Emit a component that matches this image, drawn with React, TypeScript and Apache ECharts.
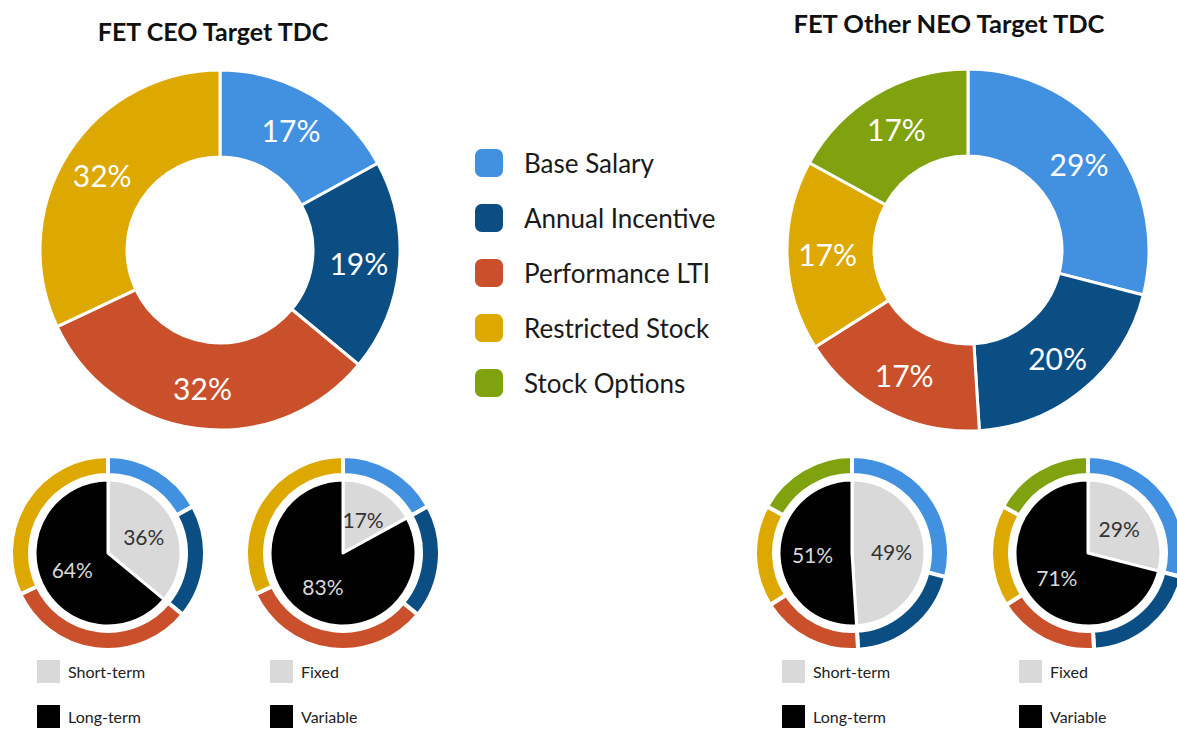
import React, { useEffect, useRef } from "react";
import * as echarts from "echarts";

const components = ["Base Salary", "Annual Incentive", "Performance LTI", "Restricted Stock", "Stock Options"];
const componentColors = ["#4291E1", "#0B4E84", "#C9502B", "#DDA800", "#7FA20E"];

const ceoNames = ["Base Salary", "Annual Incentive", "Performance LTI", "Restricted Stock"];
const ceoValues = [17, 19, 32, 32];
const neoNames = ["Base Salary", "Annual Incentive", "Performance LTI", "Restricted Stock", "Stock Options"];
const neoValues = [29, 20, 17, 17, 17];

const termNames = ["Short-term", "Long-term"];
const payNames = ["Fixed", "Variable"];
const ceoTerm = [36, 64];
const ceoPay = [17, 83];
const neoTerm = [49, 51];
const neoPay = [29, 71];

const splitColors = ["#D9D9D9", "#000000"];
const splitLabelColors = ["#333333", "#D9D9D9"];

const FONT = "Lato";

function colorOf(name: string) {
  return componentColors[components.indexOf(name)];
}

function compData(names: string[], values: number[]) {
  return names.map((n, i) => ({ name: n, value: values[i], itemStyle: { color: colorOf(n) } }));
}

function splitData(names: string[], values: number[]) {
  return names.map((n, i) => ({
    name: n,
    value: values[i],
    itemStyle: { color: splitColors[i] },
    label: { color: splitLabelColors[i] },
  }));
}

function bigDonut(names: string[], values: number[], center: number[], radius: number[]) {
  return {
    type: "pie",
    center,
    radius,
    startAngle: 90,
    clockwise: true,
    avoidLabelOverlap: false,
    silent: true,
    itemStyle: { borderColor: "#fff", borderWidth: 3 },
    label: {
      show: true,
      position: "inside",
      formatter: "{c}%",
      color: "#fff",
      fontSize: 30,
      fontFamily: FONT,
    },
    labelLine: { show: false },
    data: compData(names, values),
  };
}

function smallRing(names: string[], values: number[], center: number[]) {
  return {
    type: "pie",
    center,
    radius: [78, 97],
    startAngle: 90,
    silent: true,
    itemStyle: { borderColor: "#fff", borderWidth: 4 },
    label: { show: false },
    labelLine: { show: false },
    data: compData(names, values),
  };
}

function smallPie(names: string[], values: number[], center: number[]) {
  return {
    type: "pie",
    center,
    radius: [0, 73],
    startAngle: 90,
    silent: true,
    avoidLabelOverlap: false,
    itemStyle: { borderColor: "#fff", borderWidth: 3 },
    label: {
      show: true,
      position: "inside",
      formatter: "{c}%",
      fontSize: 21,
      fontFamily: FONT,
    },
    labelLine: { show: false },
    data: splitData(names, values),
  };
}

// one legend entry per component so each sits on its own row
function smallLegendItem(name: string, left: number, top: number) {
  return {
    orient: "horizontal",
    left,
    top,
    padding: 0,
    itemWidth: 25,
    itemHeight: 25,
    icon: "rect",
    selectedMode: false,
    data: [name],
    textStyle: { fontSize: 16, fontFamily: FONT, color: "#222", padding: [0, 0, 0, 2] },
  };
}

function smallLegend(names: string[], left: number) {
  return [smallLegendItem(names[0], left, 658), smallLegendItem(names[1], left, 703)];
}

export default function App() {
  const ref = useRef<HTMLDivElement>(null);
  useEffect(() => {
    if (!ref.current) return;
    const chart = echarts.init(ref.current, null, { renderer: "svg" });
    chart.setOption({
      animation: false,
      backgroundColor: "#fff",
      title: [
        {
          text: "FET CEO Target TDC",
          left: 208,
          top: 13,
          textAlign: "center",
          textStyle: { fontSize: 25, fontWeight: "bold", fontFamily: FONT, color: "#111" },
        },
        {
          text: "FET Other NEO Target TDC",
          left: 944,
          top: 5,
          textAlign: "center",
          textStyle: { fontSize: 25.5, fontWeight: "bold", fontFamily: FONT, color: "#111" },
        },
      ],
      legend: [
        {
          orient: "vertical",
          left: 473,
          top: 147,
          padding: 0,
          itemWidth: 30,
          itemHeight: 30,
          itemGap: 23,
          icon: "roundRect",
          selectedMode: false,
          data: components,
          textStyle: { fontSize: 26, fontFamily: FONT, color: "#1a1a1a", padding: [0, 0, 0, 15] },
        },
        ...smallLegend(termNames, 35),
        ...smallLegend(payNames, 268),
        ...smallLegend(termNames, 780),
        ...smallLegend(payNames, 1017),
      ],
      series: [
        bigDonut(ceoNames, ceoValues, [220, 250], [93, 180]),
        bigDonut(neoNames, neoValues, [968, 250], [94, 181]),
        smallRing(ceoNames, ceoValues, [108, 553]),
        smallPie(termNames, ceoTerm, [108, 553]),
        smallRing(ceoNames, ceoValues, [343, 553]),
        smallPie(payNames, ceoPay, [343, 553]),
        smallRing(neoNames, neoValues, [852, 553]),
        smallPie(termNames, neoTerm, [852, 553]),
        smallRing(neoNames, neoValues, [1088, 553]),
        smallPie(payNames, neoPay, [1088, 553]),
      ],
    });
    return () => chart.dispose();
  }, []);
  return (
    <div
      ref={ref}
      style={{ position: "absolute", left: 0, top: 0, width: 1177, height: 729, background: "#fff" }}
    />
  );
}
